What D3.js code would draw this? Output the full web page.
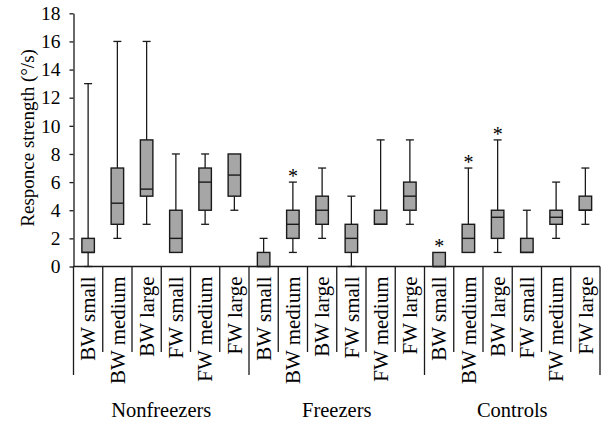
<!DOCTYPE html>
<html>
<head>
<meta charset="utf-8">
<script src="https://cdn.jsdelivr.net/npm/d3@7"></script>
<style>
  html, body { margin: 0; padding: 0; background: #fff; }
  svg { display: block; }
  text { font-family: "Liberation Serif", "DejaVu Serif", serif; fill: #000; }
</style>
</head>
<body>
<svg id="chart" width="602" height="425"></svg>
<script>
const groups = ["Nonfreezers", "Freezers", "Controls"];
const subCategories = ["BW small", "BW medium", "BW large", "FW small", "FW medium", "FW large"];
const yTicks = [0, 2, 4, 6, 8, 10, 12, 14, 16, 18];

const mins    = [0, 2, 3, 1, 3, 4,   0, 1, 2, 0, 3, 3,   0, 1, 1, 1, 2, 3];
const q1s     = [1, 3, 5, 1, 4, 5,   0, 2, 3, 1, 3, 4,   0, 1, 2, 1, 3, 4];
const medians = [1, 4.5, 5.5, 2, 6, 6.5,   0, 3, 4, 2, 3, 5,   0, 2, 3.5, 1, 3.5, 4];
const q3s     = [2, 7, 9, 4, 7, 8,   1, 4, 5, 3, 4, 6,   1, 3, 4, 2, 4, 5];
const maxs    = [13, 16, 16, 8, 8, 8,   2, 6, 7, 5, 9, 9,   1, 7, 9, 4, 6, 7];
const stars   = [false, false, false, false, false, false,
                 false, true, false, false, false, false,
                 true, true, true, false, false, false];

const rows = [];
groups.forEach((g, gi) => subCategories.forEach((c, ci) => {
  const i = gi * 6 + ci;
  rows.push({ i, group: g, cat: c, min: mins[i], q1: q1s[i], med: medians[i], q3: q3s[i], max: maxs[i], star: stars[i] });
}));

const svg = d3.select("#chart");
const left = 73.5, right = 600, y0 = 266.5, yTop = 13.3;
const x = d3.scaleBand().domain(d3.range(rows.length)).range([left, right]).padding(0);
const y = d3.scaleLinear().domain([0, 18]).range([y0, yTop]);
const stroke = "#1a1a1a";
const boxW = 12.5, capW = 8;

// y axis
const yAxis = svg.append("g").attr("transform", `translate(${left},0)`)
  .call(d3.axisLeft(y).tickValues(yTicks).tickSize(4).tickSizeOuter(0).tickPadding(9));
yAxis.attr("font-size", null).attr("font-family", null);
yAxis.select(".domain").attr("stroke", stroke).attr("stroke-width", 1.3);
yAxis.selectAll(".tick line").attr("stroke", stroke).attr("stroke-width", 1.3);
yAxis.selectAll(".tick text").attr("font-size", 19.5).attr("fill", "#000");

// x baseline
svg.append("line").attr("x1", left).attr("x2", right).attr("y1", y0).attr("y2", y0)
  .attr("stroke", stroke).attr("stroke-width", 1.3);

// separators
const bounds = d3.range(rows.length + 1);
svg.append("g").selectAll("line").data(bounds).join("line")
  .attr("x1", d => d === rows.length ? right : x(d))
  .attr("x2", d => d === rows.length ? right : x(d))
  .attr("y1", y0)
  .attr("y2", d => d % 6 === 0 ? 375 : 352)
  .attr("stroke", stroke).attr("stroke-width", 1.3);

// boxes
const bw = x.bandwidth();
const g = svg.append("g").selectAll("g").data(rows).join("g")
  .attr("transform", d => `translate(${x(d.i) + bw / 2},0)`);

g.filter(d => d.max > d.q3).append("line")
  .attr("x1", 0).attr("x2", 0).attr("y1", d => y(d.q3)).attr("y2", d => y(d.max))
  .attr("stroke", stroke).attr("stroke-width", 1.3);
g.filter(d => d.max > d.q3).append("line")
  .attr("x1", -capW / 2).attr("x2", capW / 2).attr("y1", d => y(d.max)).attr("y2", d => y(d.max))
  .attr("stroke", stroke).attr("stroke-width", 1.3);
g.filter(d => d.min < d.q1).append("line")
  .attr("x1", 0).attr("x2", 0).attr("y1", d => y(d.q1)).attr("y2", d => y(d.min))
  .attr("stroke", stroke).attr("stroke-width", 1.3);
g.filter(d => d.min < d.q1).append("line")
  .attr("x1", -capW / 2).attr("x2", capW / 2).attr("y1", d => y(d.min)).attr("y2", d => y(d.min))
  .attr("stroke", stroke).attr("stroke-width", 1.3);

g.append("rect")
  .attr("x", -boxW / 2).attr("width", boxW)
  .attr("y", d => y(d.q3)).attr("height", d => y(d.q1) - y(d.q3))
  .attr("fill", "#a6a6a6").attr("stroke", stroke).attr("stroke-width", 1.4);
g.append("line")
  .attr("x1", -boxW / 2).attr("x2", boxW / 2).attr("y1", d => y(d.med)).attr("y2", d => y(d.med))
  .attr("stroke", stroke).attr("stroke-width", 1.4);

g.filter(d => d.star).append("text")
  .attr("x", 0).attr("y", d => y(d.max) + 1)
  .attr("text-anchor", "middle").attr("font-size", 20).text("*");

// category labels
svg.append("g").selectAll("text").data(rows).join("text")
  .attr("transform", d => `translate(${x(d.i) + bw / 2},276.5) rotate(-90)`)
  .attr("text-anchor", "end").attr("dy", "0.35em").attr("font-size", 21)
  .text(d => d.cat);

// group labels
svg.append("g").selectAll("text").data(groups).join("text")
  .attr("x", (d, gi) => (x(gi * 6) + (gi === 2 ? right : x(gi * 6 + 6))) / 2)
  .attr("y", 416.5).attr("text-anchor", "middle").attr("font-size", 20.5)
  .text(d => d);

// y title
svg.append("text")
  .attr("transform", `translate(27,${(y0 + yTop) / 2 - 2}) rotate(-90)`)
  .attr("text-anchor", "middle").attr("dy", "0.35em").attr("font-size", 19)
  .text("Responce strength (°/s)");
</script>
</body>
</html>
